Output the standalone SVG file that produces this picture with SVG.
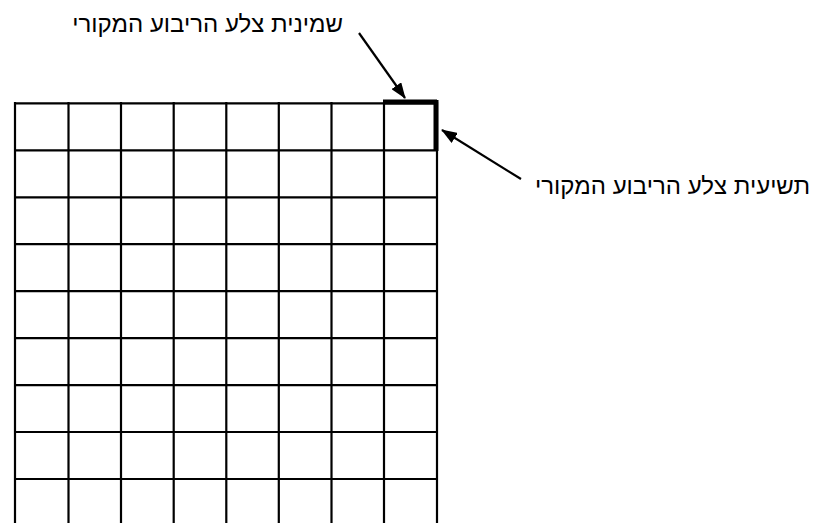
<svg xmlns="http://www.w3.org/2000/svg" width="815" height="523" viewBox="0 0 815 523">
<style>
.g{stroke:#000;stroke-width:2.2;fill:none}
.t{font-family:"Liberation Sans","Noto Sans",sans-serif;font-size:24px;fill:#000}
.a{stroke:#000;stroke-width:2.2;fill:none}
</style>
<defs>
<marker id="ah" markerWidth="16" markerHeight="12" refX="15" refY="6" orient="auto" markerUnits="userSpaceOnUse" viewBox="0 0 16 12">
<path d="M0,0 L16,6 L0,12 Z" fill="#000"/>
</marker>
</defs>
<rect width="815" height="523" fill="#fff"/>
<g id="grid" class="g">
<path d="M15,102V523M68.5,102V523M121,102V523M173.7,102V523M226.3,102V523M278.8,102V523M331.5,102V523M384,102V523M437,102V523"/>
<path d="M15,103.3H437M15,150.3H437M15,197.3H437M15,244.2H437M15,291.2H437M15,338.1H437M15,385.1H437M15,432H437M15,479H437"/>
</g>
<g id="highlight" stroke="#000" stroke-width="5" fill="none">
<path d="M383,102H437"/>
<path d="M436,100V151"/>
</g>
<g id="connectors">
<line class="a" x1="359" y1="33" x2="405" y2="98" marker-end="url(#ah)"/>
<line class="a" x1="521" y1="179" x2="442" y2="130" marker-end="url(#ah)"/>
</g>
<g id="label1"><text class="t" x="343" y="32" text-anchor="end">שמינית צלע הריבוע המקורי</text></g>
<g id="label2"><text class="t" x="810" y="194" text-anchor="end">תשיעית צלע הריבוע המקורי</text></g>
</svg>
